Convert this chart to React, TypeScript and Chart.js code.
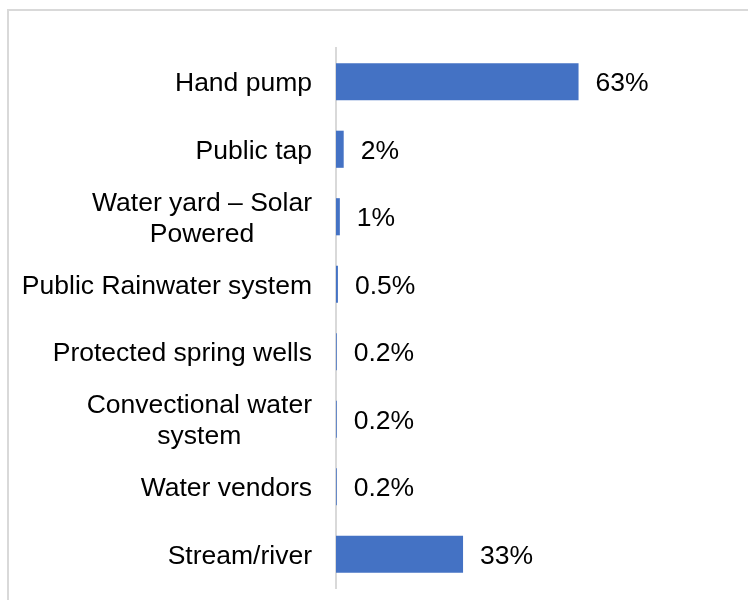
import React, { useEffect, useRef } from "react";
import { Chart, registerables } from "chart.js";

Chart.register(...registerables);

const categories: string[][] = [
  ["Hand pump"],
  ["Public tap"],
  ["Water yard – Solar", "Powered"],
  ["Public Rainwater system"],
  ["Protected spring wells"],
  ["Convectional water", "system"],
  ["Water vendors"],
  ["Stream/river"],
];
const values: number[] = [63, 2, 1, 0.5, 0.2, 0.2, 0.2, 33];
const valueLabels: string[] = ["63%", "2%", "1%", "0.5%", "0.2%", "0.2%", "0.2%", "33%"];

const FONT = '"Liberation Sans", Arial, sans-serif';
const FONT_SIZE = 26.5;

const labelPlugin = {
  id: "customLabels",
  afterDraw(chart: any) {
    const ctx = chart.ctx;
    const meta = chart.getDatasetMeta(0);
    const yScale = chart.scales.y;
    ctx.save();
    ctx.font = `${FONT_SIZE}px ${FONT}`;
    ctx.fillStyle = "#000";
    ctx.textBaseline = "middle";
    meta.data.forEach((bar: any, i: number) => {
      ctx.textAlign = "left";
      ctx.fillText(valueLabels[i], bar.x + 17, bar.y + 2);
    });
    const right = yScale.right - 24;
    const lh = 31;
    categories.forEach((lines, i) => {
      const cy = yScale.getPixelForTick(i);
      const widths = lines.map((l) => ctx.measureText(l).width);
      const maxW = Math.max(...widths);
      const cx = right - maxW / 2;
      const startY = cy - ((lines.length - 1) * lh) / 2;
      ctx.textAlign = "center";
      lines.forEach((l, j) => {
        ctx.fillText(l, cx, startY + j * lh + 2);
      });
    });
    ctx.restore();
  },
};

export default function App() {
  const canvasRef = useRef<HTMLCanvasElement | null>(null);

  useEffect(() => {
    if (!canvasRef.current) return;
    const chart = new Chart(canvasRef.current, {
      type: "bar",
      data: {
        labels: categories.map((c) => c.join(" ")),
        datasets: [
          {
            data: values,
            backgroundColor: "#4472C4",
            borderWidth: 0,
            barPercentage: 0.55,
            categoryPercentage: 1,
          },
        ],
      },
      options: {
        indexAxis: "y",
        animation: false,
        responsive: false,
        maintainAspectRatio: false,
        layout: { padding: { top: 48, bottom: 12, left: 0, right: 27 } },
        plugins: {
          legend: { display: false },
          tooltip: { enabled: false },
        },
        scales: {
          x: {
            display: false,
            min: 0,
            max: 100,
          },
          y: {
            display: true,
            grid: { display: false, drawTicks: false },
            border: { display: true, color: "#d9d9d9", width: 2 },
            ticks: { display: false },
            afterFit: (axis: any) => {
              axis.width = 336;
            },
          },
        },
      },
      plugins: [labelPlugin],
    });
    return () => chart.destroy();
  }, []);

  return (
    <div style={{ position: "fixed", left: 0, top: 0, width: 748, height: 600, background: "#fff", overflow: "hidden" }}>
      <div
        style={{
          position: "absolute",
          left: 7,
          top: 9,
          width: 800,
          height: 700,
          borderTop: "2px solid #d9d9d9",
          borderLeft: "2px solid #d9d9d9",
        }}
      />
      <canvas ref={canvasRef} width={748} height={600} style={{ position: "absolute", left: 0, top: 0 }} />
    </div>
  );
}
